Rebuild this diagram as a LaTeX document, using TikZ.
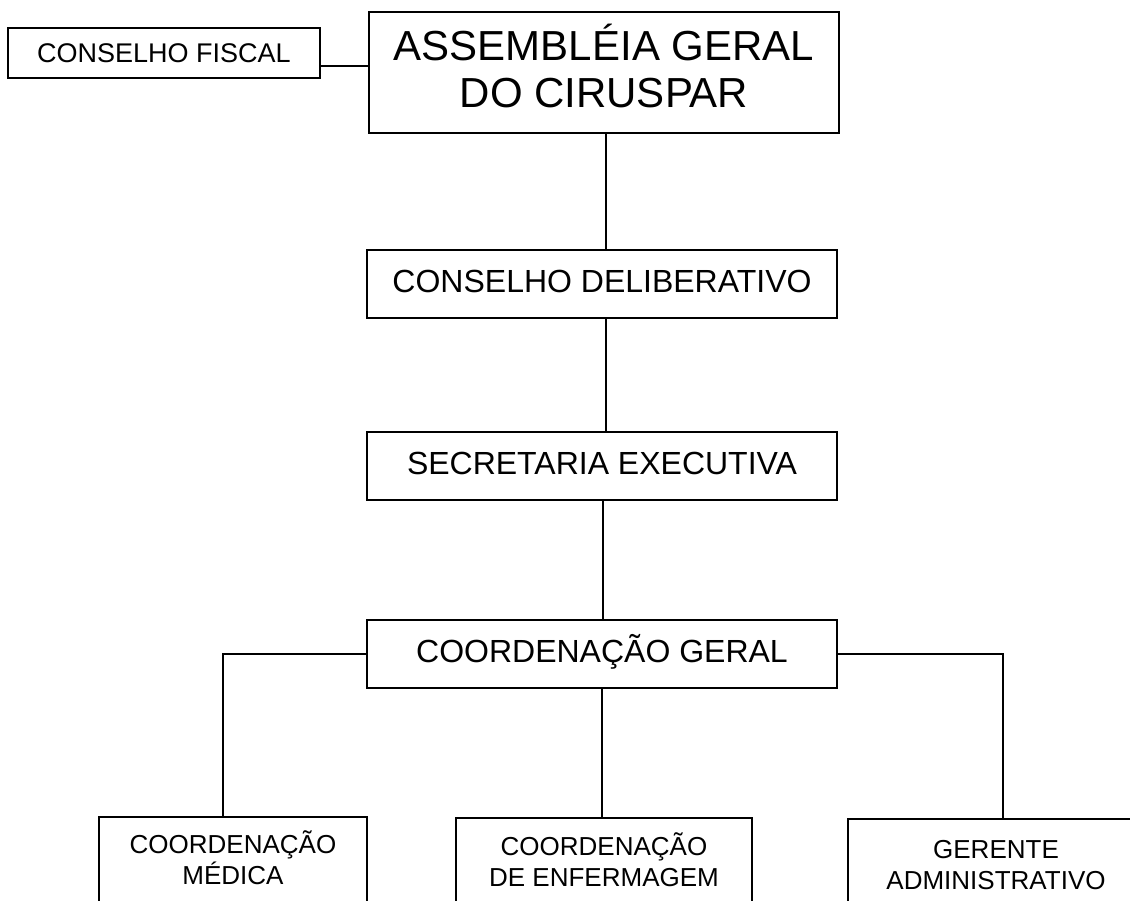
\documentclass[tikz,border=0pt]{standalone}
\usepackage{fontspec}
\setmainfont{Liberation Sans}
\begin{document}
\begin{tikzpicture}[x=1pt,y=-1pt,
  every node/.style={draw,line width=2pt,inner sep=0pt,align=center},
  conn/.style={line width=2pt},
  midbox/.style={minimum width=470pt,minimum height=68pt,font={\fontsize{32}{38}\selectfont},text height=23pt,text depth=6.4pt},
  lowbox/.style={anchor=north,font={\fontsize{26}{31}\selectfont},text height=67pt,text depth=60pt}
]
\useasboundingbox (0,0) rectangle (1130,901);
\clip (0,0) rectangle (1130,901);
\node[minimum width=312pt,minimum height=50pt,font={\fontsize{27}{32}\selectfont}] (fiscal) at (164,53) {CONSELHO FISCAL};
\node[anchor=north,minimum width=470pt,font={\fontsize{42}{47}\selectfont},text height=96pt,text depth=25pt] (asm) at (604,11) {ASSEMBLÉIA GERAL\\DO CIRUSPAR};
\node[midbox] (delib) at (602,284) {CONSELHO DELIBERATIVO};
\node[midbox] (sec) at (602,466) {SECRETARIA EXECUTIVA};
\node[midbox] (geral) at (602,654) {COORDENAÇÃO GERAL};
\node[lowbox,minimum width=268pt] (med) at (233,816) {COORDENAÇÃO\\MÉDICA};
\node[lowbox,minimum width=296pt,text height=68pt] (enf) at (604,817) {COORDENAÇÃO\\DE ENFERMAGEM};
\node[lowbox,minimum width=296pt,text height=70pt] (ger) at (996,818) {GERENTE\\ADMINISTRATIVO};
\draw[conn] ([yshift=-13pt]fiscal.east) -- ([yshift=-13pt]fiscal.east -| asm.west);
\draw[conn] ([xshift=2pt]asm.south) -- ([xshift=2pt]asm.south |- delib.north);
\draw[conn] ([xshift=4pt]delib.south) -- ([xshift=4pt]delib.south |- sec.north);
\draw[conn] ([xshift=1pt]sec.south) -- ([xshift=1pt]sec.south |- geral.north);
\draw[conn] (geral.south) -- (geral.south |- enf.north);
\draw[conn] (geral.west) -| ([xshift=-10pt]med.north);
\draw[conn] (geral.east) -| ([xshift=7pt]ger.north);
\end{tikzpicture}
\end{document}
